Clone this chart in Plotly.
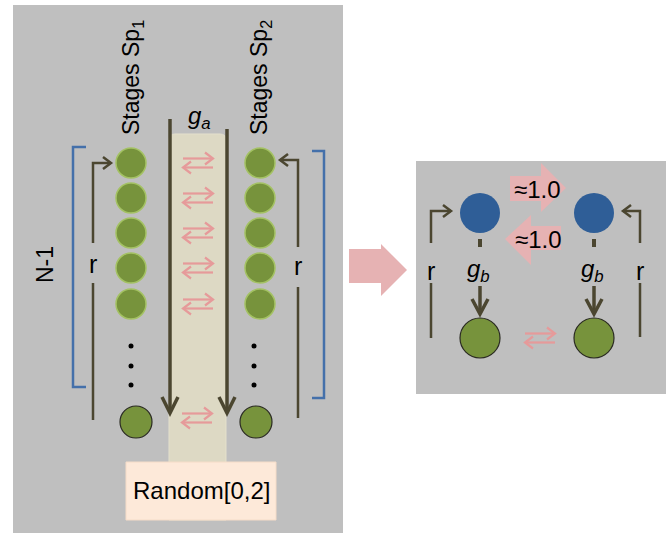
import plotly.graph_objects as go

# ---- diagram content ----
stage_labels = ["Stages Sp<sub>1</sub>", "Stages Sp<sub>2</sub>"]
channel_label = "<i>g</i><sub><i>a</i></sub>"
sub_label = "<i>g</i><sub><i>b</i></sub>"
random_label = "Random[0,2]"
n_label = "N-1"
rate_label = "r"
exchange_labels = ["≈1.0", "≈1.0"]
stage_rows = [163, 198, 233, 268, 304]      # visible stage circles
dot_rows = [346, 366, 385]                  # ellipsis dots
exchange_rows = [163, 198, 233, 268, 304, 418]

GRAY = "#bfbfbf"
GREEN = "#77933c"
GREEN_EDGE = "#a4c263"
DARK = "#4b4630"
BLUE = "#2f5e97"
BRACKET = "#4470aa"
PINK = "#e69a9a"
PINK_FILL = "#e6b2b3"
BEIGE = "#ddd9c4"
PEACH = "#fde9d9"
FONT = "Liberation Sans, Arial, sans-serif"

shapes = []
annotations = []


def rect(x0, y0, x1, y1, fill, line=None, lw=0):
    shapes.append(dict(type="rect", x0=x0, y0=y0, x1=x1, y1=y1, fillcolor=fill,
                       line=dict(color=line or fill, width=lw), layer="below"))


def circle(cx, cy, r, fill, edge, lw):
    shapes.append(dict(type="circle", x0=cx - r, x1=cx + r, y0=cy - r, y1=cy + r,
                       fillcolor=fill, line=dict(color=edge, width=lw)))


def path(d, color, width, fill=None):
    s = dict(type="path", path=d, line=dict(color=color, width=width))
    if fill:
        s["fillcolor"] = fill
    shapes.append(s)


def line(x0, y0, x1, y1, color, width):
    shapes.append(dict(type="line", x0=x0, y0=y0, x1=x1, y1=y1,
                       line=dict(color=color, width=width)))


def text(x, y, t, size=21, angle=0, color="black"):
    annotations.append(dict(x=x, y=y, text=t, showarrow=False, textangle=angle,
                            font=dict(family=FONT, size=size, color=color),
                            xanchor="center", yanchor="middle"))


def pink_exchange(cx, cy, hw=15, off=4.5):
    # upper arrow pointing right
    line(cx - hw, cy - off, cx + hw, cy - off, PINK, 2.2)
    path(f"M {cx+hw-8},{cy-off-6} L {cx+hw},{cy-off} L {cx+hw-8},{cy-off+6}", PINK, 2.2)
    # lower arrow pointing left
    line(cx - hw, cy + off, cx + hw, cy + off, PINK, 2.2)
    path(f"M {cx-hw+8},{cy+off-6} L {cx-hw},{cy+off} L {cx-hw+8},{cy+off+6}", PINK, 2.2)


# ---- panels ----
rect(13, 5, 343, 533, GRAY)
rect(416, 161, 666, 394, GRAY)

# channel and random box
shapes.append(dict(type="path", path="M 169,520 L 169,140 Q 169,134 175,134 L 220,134 Q 226,134 226,140 L 226,520 Z",
                   fillcolor=BEIGE, line=dict(color="#e4e0cc", width=1), layer="below"))
rect(126, 462, 276, 520, PEACH, "#f5dcc8", 1)
text(201, 490, random_label, size=24)

# channel walls with arrows
for x, ytop in [(170, 119), (227, 129)]:
    line(x, ytop, x, 412, DARK, 3.5)
    path(f"M {x-8},{397} L {x},{413} L {x+8},{397}", DARK, 3.5)
text(199, 117, channel_label, size=24)

# stage labels
text(132, 78, stage_labels[0], size=23, angle=-90)
text(260, 78, stage_labels[1], size=23, angle=-90)

# stage circles
for y in stage_rows:
    circle(131, y, 15, GREEN, GREEN_EDGE, 1.5)
    circle(260, y, 15, GREEN, GREEN_EDGE, 1.5)
for y in dot_rows:
    circle(131, y, 2.5, "black", "black", 0)
    circle(254, y, 2.5, "black", "black", 0)
circle(136, 422, 16, GREEN, "#2a2a22", 1.2)
circle(256, 422, 16, GREEN, "#2a2a22", 1.2)

# exchange arrows in the channel
for i, y in enumerate(exchange_rows):
    cx = 198 if i < len(exchange_rows) - 1 else 197
    pink_exchange(cx, y)

# brackets
path("M 86,147 L 73,147 L 73,387 L 86,387", BRACKET, 2.5)
path("M 312,151 L 324,151 L 324,398 L 312,398", BRACKET, 2.5)
text(45, 265, n_label, size=23, angle=-90)

# r loops (left panel)
path("M 93,243 L 93,163 L 110,163", DARK, 2.5)
path("M 103,157 L 111,163 L 103,169", DARK, 2.5)
line(93, 283, 93, 420, DARK, 2.5)
text(93, 264, rate_label, size=25)

path("M 298,247 L 298,160 L 280,160", DARK, 2.5)
path("M 288,154 L 280,160 L 288,166", DARK, 2.5)
line(298, 287, 298, 418, DARK, 2.5)
text(298, 266, rate_label, size=25)

# big arrow between panels
path("M 349,249 L 381,249 L 381,244 L 407,270 L 381,296 L 381,283 L 349,283 Z",
     PINK_FILL, 0, fill=PINK_FILL)

# ---- right panel ----
# exchange block arrows
path("M 510,176 L 541,176 L 541,163 L 566,188 L 541,212 L 541,201 L 510,201 Z",
     PINK_FILL, 0, fill=PINK_FILL)
path("M 561,226 L 531,226 L 531,215 L 505,239 L 531,265 L 531,250 L 561,250 Z",
     PINK_FILL, 0, fill=PINK_FILL)
text(537, 189, exchange_labels[0], size=24)
text(538, 239, exchange_labels[1], size=24)

for cx in (480, 594):
    circle(cx, 213, 20, BLUE, BLUE, 0)
    line(cx, 239, cx, 247, DARK, 4)
    text(cx - 2, 270, sub_label, size=24)
    line(cx, 286, cx, 310, DARK, 3.5)
    path(f"M {cx-8},{299} L {cx},{314} L {cx+8},{299}", DARK, 3.5)
    circle(cx, 338, 20, GREEN, "#2a2a22", 1.2)

pink_exchange(540, 338)

# r loops (right panel)
path("M 431,243 L 431,211 L 451,211", DARK, 2.5)
path("M 443,205 L 451,211 L 443,217", DARK, 2.5)
line(431, 283, 431, 338, DARK, 2.5)
text(431, 271, rate_label, size=25)

path("M 640,243 L 640,211 L 623,211", DARK, 2.5)
path("M 631,205 L 623,211 L 631,217", DARK, 2.5)
line(640, 283, 640, 337, DARK, 2.5)
text(640, 271, rate_label, size=25)

fig = go.Figure()
fig.add_trace(go.Scatter(x=[0, 666], y=[0, 535], mode="markers",
                         marker=dict(opacity=0), hoverinfo="skip", showlegend=False))
fig.update_layout(
    width=666, height=535,
    margin=dict(l=0, r=0, t=0, b=0),
    paper_bgcolor="white", plot_bgcolor="white",
    xaxis=dict(range=[0, 666], visible=False, fixedrange=True),
    yaxis=dict(range=[535, 0], visible=False, fixedrange=True),
    shapes=shapes, annotations=annotations, showlegend=False,
)
fig.write_html("out.html", config={"displayModeBar": False},
               post_script="document.body.style.margin='0';document.body.style.padding='0';document.body.style.overflow='hidden';")
